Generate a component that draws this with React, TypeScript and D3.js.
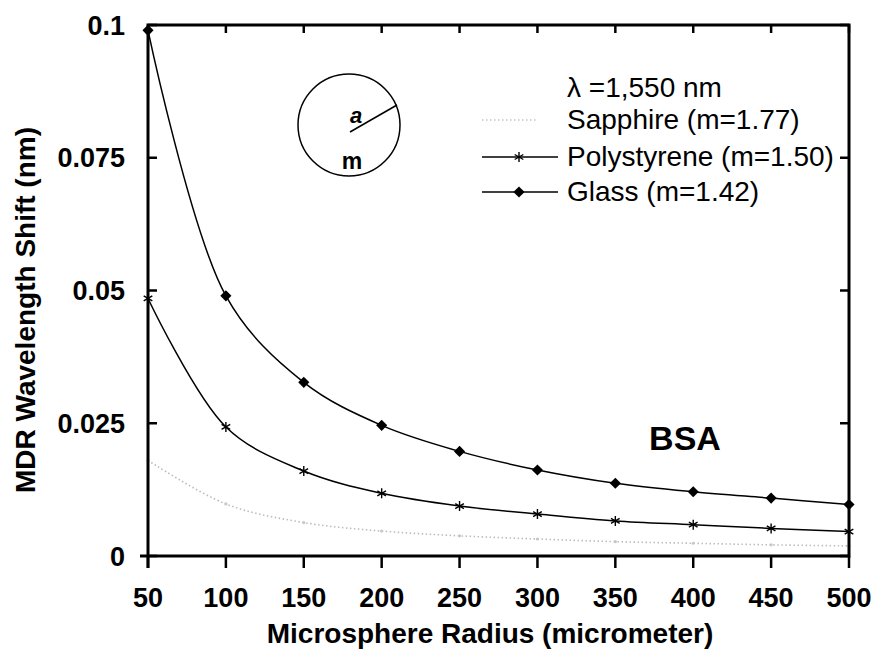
import React from "react";
import * as d3 from "d3";

const radii = [50, 100, 150, 200, 250, 300, 350, 400, 450, 500];
const sapphire = [0.018, 0.0098, 0.0063, 0.0047, 0.0038, 0.0032, 0.0027, 0.0024, 0.0021, 0.0019];
const polystyrene = [0.0485, 0.0243, 0.016, 0.0118, 0.0094, 0.0079, 0.0066, 0.0059, 0.0052, 0.0046];
const glass = [0.099, 0.049, 0.0327, 0.0246, 0.0197, 0.0162, 0.0137, 0.0121, 0.0109, 0.0097];
const xTicks = [50, 100, 150, 200, 250, 300, 350, 400, 450, 500];
const yTicks = [0, 0.025, 0.05, 0.075, 0.1];
const yTickLabels = ["0", "0.025", "0.05", "0.075", "0.1"];
const legendLabels = ["Sapphire (m=1.77)", "Polystyrene (m=1.50)", "Glass (m=1.42)"];

const W = 873;
const H = 650;
const FONT = "'Liberation Sans', Arial, Helvetica, sans-serif";

export default function App() {
  const x = d3.scaleLinear().domain([50, 500]).range([148, 849]);
  const y = d3.scaleLinear().domain([0, 0.1]).range([556, 25]);

  const line = d3
    .line<number>()
    .x((_, i) => x(radii[i]))
    .y((d) => y(d))
    .curve(d3.curveCatmullRom.alpha(0.5));

  const diamond = d3.symbol().type(d3.symbolSquare).size(62)();
  const star = d3.symbol().type(d3.symbolAsterisk).size(70)();
  const smallDot = d3.symbol().type(d3.symbolCircle).size(8)();

  const x0 = x(50);
  const x1 = x(500);
  const yTop = y(0.1);
  const yBot = y(0);

  const legX = 567;
  const legRows = [129, 166, 201];
  const sampleX0 = 482;
  const sampleX1 = 558;
  const sampleMid = 519;

  return (
    <svg
      width={W}
      height={H}
      style={{ position: "absolute", left: 0, top: 0, background: "#fff" }}
      fontFamily={FONT}
    >
      <rect x={0} y={0} width={W} height={H} fill="#fff" />

      {/* series */}
      <path
        d={line(sapphire) || ""}
        fill="none"
        stroke="#bdbdbd"
        strokeWidth={1.6}
        strokeDasharray="1.5,2.5"
      />
      {sapphire.map((v, i) => (
        <path
          key={"sd" + i}
          d={smallDot}
          transform={`translate(${x(radii[i])},${y(v)})`}
          fill="#c8c8c8"
        />
      ))}
      <path d={line(polystyrene) || ""} fill="none" stroke="#000" strokeWidth={1.5} />
      {polystyrene.map((v, i) => (
        <path
          key={"ps" + i}
          d={star}
          transform={`translate(${x(radii[i])},${y(v)})`}
          fill="none"
          stroke="#000"
          strokeWidth={1.4}
        />
      ))}
      <path d={line(glass) || ""} fill="none" stroke="#000" strokeWidth={1.5} />
      {glass.map((v, i) => (
        <path
          key={"gl" + i}
          d={diamond}
          transform={`translate(${x(radii[i])},${y(v)}) rotate(45)`}
          fill="#000"
        />
      ))}

      {/* frame */}
      <rect
        x={x0}
        y={yTop}
        width={x1 - x0}
        height={yBot - yTop}
        fill="none"
        stroke="#000"
        strokeWidth={3}
      />

      {/* x ticks */}
      {xTicks.map((t) => (
        <g key={"xt" + t}>
          <line x1={x(t)} x2={x(t)} y1={yBot} y2={yBot + 12} stroke="#000" strokeWidth={2.5} />
          <line x1={x(t)} x2={x(t)} y1={yTop} y2={yTop + 8} stroke="#000" strokeWidth={2.5} />
          <text
            x={x(t)}
            y={607}
            textAnchor="middle"
            fontSize={27}
            fontWeight="bold"
            fill="#000"
          >
            {t}
          </text>
        </g>
      ))}

      {/* y ticks */}
      {yTicks.map((t, i) => (
        <g key={"yt" + t}>
          <line x1={x0} x2={x0 + 9} y1={y(t)} y2={y(t)} stroke="#000" strokeWidth={2.5} />
          <line x1={x1} x2={x1 - 9} y1={y(t)} y2={y(t)} stroke="#000" strokeWidth={2.5} />
          <text
            x={125}
            y={y(t) + 9.5}
            textAnchor="end"
            fontSize={27}
            fontWeight="bold"
            fill="#000"
          >
            {yTickLabels[i]}
          </text>
        </g>
      ))}
      <line x1={x0 - 8} x2={x0} y1={yBot} y2={yBot} stroke="#000" strokeWidth={3} />
      <line x1={x0} x2={x0} y1={yBot} y2={yBot + 12} stroke="#000" strokeWidth={3} />

      {/* axis titles */}
      <text
        x={490}
        y={643}
        textAnchor="middle"
        fontSize={28}
        fontWeight="bold"
        fill="#000"
      >
        Microsphere Radius (micrometer)
      </text>
      <text
        transform={`translate(35,310) rotate(-90)`}
        textAnchor="middle"
        fontSize={28}
        fontWeight="bold"
        fill="#000"
      >
        MDR Wavelength Shift (nm)
      </text>

      {/* sphere inset */}
      <ellipse cx={349} cy={125} rx={51} ry={51} fill="none" stroke="#000" strokeWidth={1.5} />
      <line x1={350} y1={132} x2={397} y2={105} stroke="#000" strokeWidth={1.5} />
      <text x={356} y={123} textAnchor="middle" fontSize={22} fontWeight="bold" fontStyle="italic" fill="#000">
        a
      </text>
      <text x={352} y={169} textAnchor="middle" fontSize={23} fontWeight="bold" fill="#000">
        m
      </text>

      {/* legend */}
      <text x={legX} y={97} fontSize={28} fill="#000">
        λ =1,550 nm
      </text>
      <line
        x1={sampleX0}
        x2={sampleX1 - 22}
        y1={legRows[0] - 9}
        y2={legRows[0] - 9}
        stroke="#c4c4c4"
        strokeWidth={1.6}
        strokeDasharray="1.5,2.5"
      />
      <line x1={sampleX0} x2={sampleX1} y1={legRows[1] - 9} y2={legRows[1] - 9} stroke="#000" strokeWidth={1.5} />
      <path
        d={star}
        transform={`translate(${sampleMid},${legRows[1] - 9})`}
        fill="none"
        stroke="#000"
        strokeWidth={1.4}
      />
      <line x1={sampleX0} x2={sampleX1} y1={legRows[2] - 9} y2={legRows[2] - 9} stroke="#000" strokeWidth={1.5} />
      <path
        d={diamond}
        transform={`translate(${sampleMid},${legRows[2] - 9}) rotate(45)`}
        fill="#000"
      />
      {legendLabels.map((l, i) => (
        <text key={l} x={legX} y={legRows[i]} fontSize={28} fill="#000">
          {l}
        </text>
      ))}

      {/* annotation */}
      <text x={685} y={450} textAnchor="middle" fontSize={34} fontWeight="bold" fill="#000">
        BSA
      </text>
    </svg>
  );
}
